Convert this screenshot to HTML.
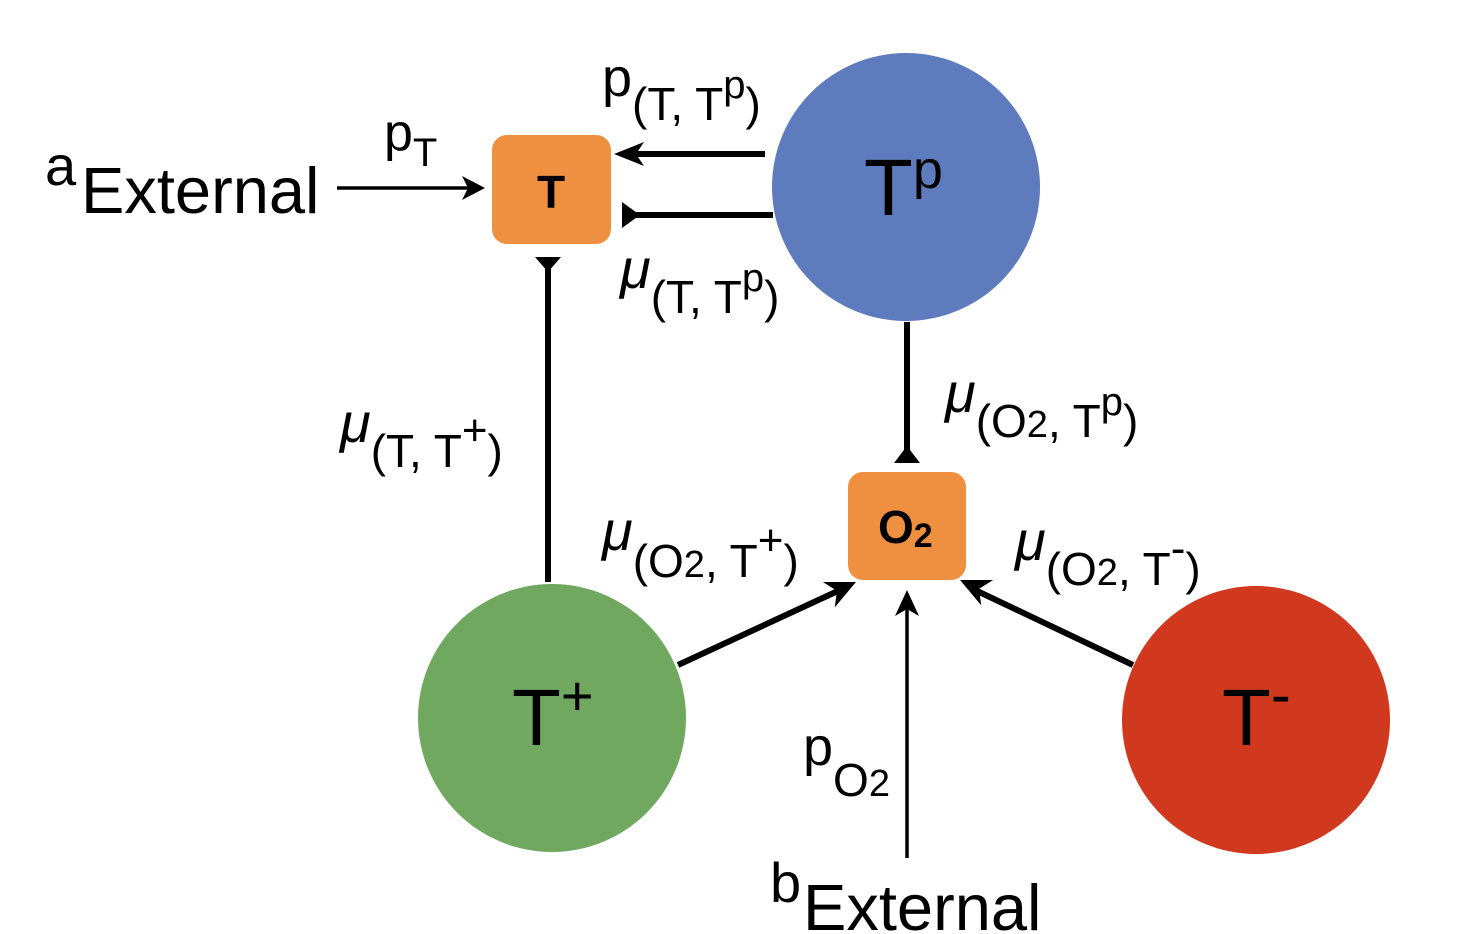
<!DOCTYPE html>
<html><head><meta charset="utf-8"><style>
html,body{margin:0;padding:0;background:#fff;}
svg{display:block;}
text{font-family:"Liberation Sans",sans-serif;fill:#000;}
.mu{font-style:italic;font-size:56px;}
</style></head><body>
<svg width="1479" height="934" viewBox="0 0 1479 934" xmlns="http://www.w3.org/2000/svg">
<circle cx="906" cy="187" r="134" fill="#5e7bbd"/>
<circle cx="552" cy="718" r="134" fill="#70a85f"/>
<circle cx="1256" cy="720" r="134" fill="#d1391e"/>
<rect x="492" y="135" width="119" height="109" rx="15" fill="#ef9040"/>
<rect x="848" y="472" width="118" height="108" rx="15" fill="#ef9040"/>
<text x="551" y="208" font-size="46" font-weight="bold" text-anchor="middle">T</text>
<text x="878" y="543" font-size="46" font-weight="bold">O<tspan font-size="34" dy="4">2</tspan></text>

<g stroke="#000" fill="none">
<line x1="337" y1="188" x2="470" y2="188" stroke-width="3.5"/>
<line x1="765" y1="154" x2="630" y2="154" stroke-width="6"/>
<line x1="773" y1="215" x2="630" y2="215" stroke-width="6"/>
<line x1="548" y1="268" x2="548" y2="582" stroke-width="6"/>
<line x1="907" y1="322" x2="907" y2="452" stroke-width="6"/>
<line x1="678" y1="665" x2="840" y2="590" stroke-width="6"/>
<line x1="1133" y1="665" x2="975" y2="590" stroke-width="6"/>
<line x1="907" y1="858" x2="907" y2="605" stroke-width="3.5"/>
</g>
<g fill="#000">
<path d="M485,188 L462,176 L468,188 L462,200 Z"/>
<path d="M614,154 L644,142 L636,154 L644,166 Z"/>
<path d="M622,202 L622,228 L640,215 Z"/>
<path d="M535,257 L561,257 L548,272 Z"/>
<path d="M894,463 L920,463 L907,446 Z"/>
<path d="M907,590 L895,616 L907,609 L919,616 Z"/>
<g transform="translate(856,582) rotate(-25)"><path d="M0,0 L-30,-14 L-21,0 L-30,14 Z"/></g>
<g transform="translate(960,580) rotate(205)"><path d="M0,0 L-30,-14 L-21,0 L-30,14 Z"/></g>
</g>

<text x="864" y="215" font-size="80">T<tspan font-size="54" dy="-27">p</tspan></text>
<text x="512" y="745" font-size="80">T<tspan font-size="56" dy="-30">+</tspan></text>
<text x="1222" y="745" font-size="80">T<tspan font-size="60" dy="-30">-</tspan></text>

<text x="45" y="185" font-size="56">a</text><text x="81" y="213" font-size="65">External</text>
<text x="384" y="150" font-size="52">p<tspan font-size="40" dy="16">T</tspan></text>
<text x="602" y="96" font-size="54">p<tspan font-size="46" dy="24">(T, T</tspan><tspan font-size="40" dy="-22">p</tspan><tspan font-size="46" dy="22">)</tspan></text>
<text x="620" y="288" class="mu">μ<tspan font-style="normal" font-size="46" dy="25">(T, T</tspan><tspan font-style="normal" font-size="40" dy="-22">p</tspan><tspan font-style="normal" font-size="46" dy="22">)</tspan></text>
<text x="340" y="442" class="mu">μ<tspan font-style="normal" font-size="46" dy="25">(T, T</tspan><tspan font-style="normal" font-size="44" dy="-22">+</tspan><tspan font-style="normal" font-size="46" dy="22">)</tspan></text>
<text x="945" y="412" class="mu">μ<tspan font-style="normal" font-size="46" dy="25">(O</tspan><tspan font-style="normal" font-size="38">2</tspan><tspan font-style="normal" font-size="46">, T</tspan><tspan font-style="normal" font-size="40" dy="-22">p</tspan><tspan font-style="normal" font-size="46" dy="22">)</tspan></text>
<text x="602" y="550" class="mu">μ<tspan font-style="normal" font-size="46" dy="27">(O</tspan><tspan font-style="normal" font-size="38">2</tspan><tspan font-style="normal" font-size="46">, T</tspan><tspan font-style="normal" font-size="44" dy="-22">+</tspan><tspan font-style="normal" font-size="46" dy="22">)</tspan></text>
<text x="1015" y="560" class="mu">μ<tspan font-style="normal" font-size="46" dy="25">(O</tspan><tspan font-style="normal" font-size="38">2</tspan><tspan font-style="normal" font-size="46">, T</tspan><tspan font-style="normal" font-size="44" dy="-22">-</tspan><tspan font-style="normal" font-size="46" dy="22">)</tspan></text>
<text x="803" y="765" font-size="54">p<tspan font-size="46" dy="31">O</tspan><tspan font-size="38">2</tspan></text>
<text x="770" y="902" font-size="56">b</text><text x="803" y="930" font-size="65">External</text>
</svg>
</body></html>
